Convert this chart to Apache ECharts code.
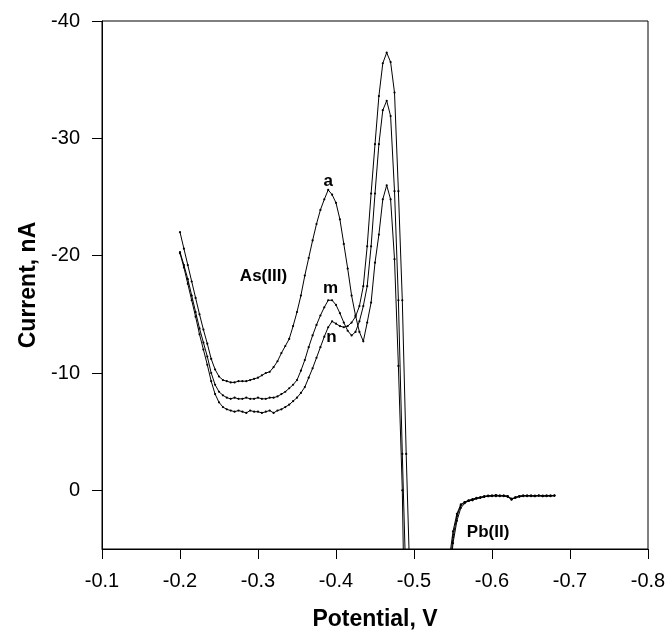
<!DOCTYPE html>
<html>
<head>
<meta charset="utf-8">
<script src="https://cdn.jsdelivr.net/npm/echarts@6/dist/echarts.min.js"></script>
<style>
html,body{margin:0;padding:0;background:#fff;}
#chart{width:667px;height:631px;}
</style>
</head>
<body>
<div id="chart"></div>
<script>
// Potential grid: -0.200 V to -0.680 V, 0.005 V steps (97 samples)
var potentials = [];
for (var i = 0; i < 97; i++) { potentials.push(-Math.round((0.2 + 0.005 * i) * 1000) / 1000); }

// Curve a (highest As(III) peak)
var curveA = [
 -22.0,-20.6,-19.2,-17.8,-16.4,-15.0,-13.7,-12.5,-11.2,-10.3,
 -9.7,-9.4,-9.3,-9.2,-9.2,-9.3,-9.3,-9.3,-9.4,-9.5,
 -9.6,-9.8,-10.0,-10.1,-10.5,-11.0,-11.7,-12.3,-12.9,-14.0,
 -15.2,-16.6,-18.3,-19.8,-21.3,-22.7,-23.9,-24.8,-25.6,-25.2,
 -24.5,-23.1,-21.0,-18.9,-16.6,-14.9,-13.5,-12.7,-14.3,-16.0,
 -19.4,-21.8,-24.8,-26.0,-24.8,-19.7,-10.6,0.0,20,45,
 70,90,102,106,100,85,60,35,16,8.0,
 4.5,2.6,1.5,1.1,0.9,0.8,0.7,0.6,0.55,0.5,
 0.45,0.5,0.45,0.45,0.55,0.75,0.6,0.5,0.45,0.5,
 0.45,0.5,0.45,0.45,0.5,0.45,0.45
];
// Curve m
var curveM = [
 -20.3,-19.2,-18.0,-16.6,-15.2,-13.8,-12.6,-11.4,-10.0,-9.0,
 -8.4,-8.1,-7.9,-7.8,-7.9,-7.8,-7.8,-7.9,-7.8,-7.8,
 -7.9,-7.8,-7.8,-7.9,-7.9,-8.0,-8.2,-8.4,-8.7,-9.0,
 -9.4,-10.2,-11.1,-12.2,-13.2,-14.1,-14.9,-15.6,-16.2,-16.2,
 -15.8,-15.1,-14.3,-13.6,-13.2,-13.5,-14.4,-15.7,-17.4,-20.8,
 -25.3,-29.5,-32.4,-33.2,-31.9,-25.5,-16.2,-3.1,8.6,30,
 55,78,92,98,95,82,58,32,14,6.0,
 3.5,2.0,1.2,1.0,0.85,0.75,0.65,0.6,0.5,0.45,
 0.45,0.4,0.45,0.5,0.5,0.7,0.65,0.5,0.45,0.45,
 0.5,0.45,0.45,0.5,0.45,0.45,0.45
];
// Curve n
var curveN = [
 -20.2,-19.0,-17.6,-16.2,-14.8,-13.3,-12.0,-10.7,-9.3,-8.2,
 -7.5,-7.1,-6.9,-6.8,-6.7,-6.8,-6.7,-6.6,-6.8,-6.7,
 -6.7,-6.6,-6.7,-6.8,-6.6,-6.8,-6.9,-7.1,-7.3,-7.6,
 -7.9,-8.3,-8.8,-9.6,-10.4,-11.3,-12.2,-13.1,-13.9,-14.4,
 -14.2,-14.0,-13.9,-14.0,-14.3,-14.8,-15.7,-17.4,-20.8,-25.3,
 -29.5,-33.6,-36.4,-37.3,-36.5,-33.9,-25.5,-16.2,-3.1,8.2,
 28,52,72,85,88,80,62,40,20,7.0,
 4.0,2.2,1.3,1.0,0.9,0.85,0.7,0.65,0.55,0.5,
 0.5,0.45,0.5,0.45,0.5,0.8,0.6,0.55,0.5,0.45,
 0.45,0.5,0.45,0.5,0.45,0.5,0.45
];

// Annotations (data coordinates)
var noteText = ['a', 'm', 'n', 'As(III)', 'Pb(II)'];
var noteV = [-0.390, -0.393, -0.394, -0.307, -0.595];
var noteI = [-26.3, -17.2, -13.0, -18.2, 3.6];

// Axis ticks
var yTicks = [-40, -30, -20, -10, 0];

function pairs(vals) {
  return potentials.map(function (p, k) { return [p, vals[k]]; });
}

var FONT = '"Liberation Sans", Arial, sans-serif';

function lineSeries(name, vals) {
  return {
    name: name, type: 'line', data: pairs(vals),
    smooth: false, clip: true,
    symbol: 'circle', symbolSize: 2.2, showSymbol: true, showAllSymbol: true,
    lineStyle: { color: '#000', width: 1 },
    itemStyle: { color: '#000' },
    emphasis: { disabled: true },
    z: 3
  };
}

var chart = echarts.init(document.getElementById('chart'), null, { renderer: 'canvas' });
chart.setOption({
  animation: false,
  backgroundColor: '#fff',
  textStyle: { fontFamily: FONT, color: '#000' },
  grid: { left: 102, right: 19, top: 21, bottom: 82, containLabel: false, outerBoundsMode: 'none',
    show: true, borderColor: '#000', borderWidth: 1, backgroundColor: 'transparent' },
  xAxis: {
    type: 'value', min: -0.8, max: -0.1, interval: 0.1, inverse: true,
    name: 'Potential, V', nameLocation: 'middle', nameGap: 59,
    nameTextStyle: { fontFamily: FONT, fontSize: 23, fontWeight: 'bold', color: '#000' },
    axisLine: { show: true, onZero: false, lineStyle: { color: '#000', width: 1 } },
    axisTick: { show: true, inside: false, length: 10, lineStyle: { color: '#000' } },
    axisLabel: { fontFamily: FONT, fontSize: 20, color: '#000', margin: 22,
      formatter: function (v) { return v.toFixed(1); } },
    splitLine: { show: false }
  },
  yAxis: {
    type: 'value', min: -40, max: 5, interval: 10, inverse: true,
    name: 'Current, nA', nameLocation: 'middle', nameGap: 62,
    nameTextStyle: { fontFamily: FONT, fontSize: 23, fontWeight: 'bold', color: '#000' },
    axisLine: { show: true, onZero: false, lineStyle: { color: '#000', width: 1 } },
    axisTick: { show: true, inside: false, length: 10, customValues: yTicks, lineStyle: { color: '#000' } },
    axisLabel: { fontFamily: FONT, fontSize: 20, color: '#000', margin: 22, customValues: yTicks,
      formatter: function (v) { return String(v); } },
    splitLine: { show: false }
  },
  series: [
    lineSeries('a', curveA),
    lineSeries('m', curveM),
    lineSeries('n', curveN),
    {
      type: 'scatter', symbolSize: 0, silent: true, z: 5,
      itemStyle: { opacity: 1, color: '#000' },
      data: noteText.map(function (t, k) { return { value: [noteV[k], noteI[k]], name: t }; }),
      label: { show: true, position: 'inside', formatter: function (p) { return p.name; },
        fontFamily: FONT, fontWeight: 'bold', fontSize: 17, color: '#000', opacity: 1,
        textBorderWidth: 0 }
    }
  ]
});
</script>
</body>
</html>
